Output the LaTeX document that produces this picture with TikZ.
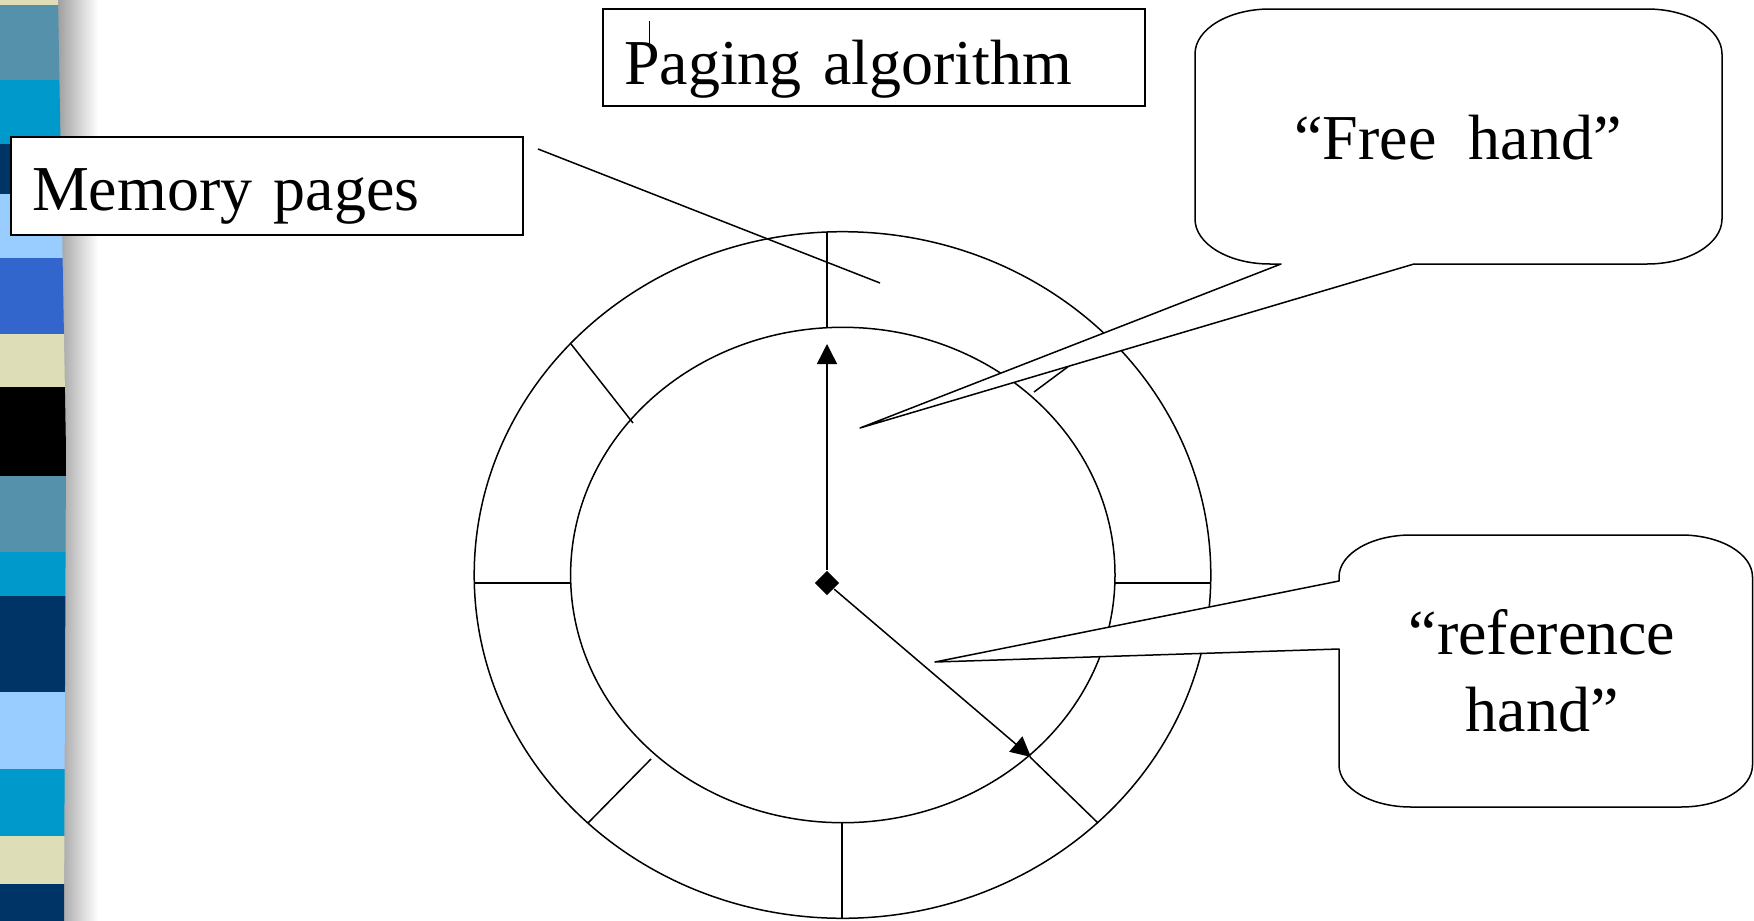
\documentclass[tikz,border=0pt]{standalone}
\usepackage{fontspec}
\setmainfont{Liberation Serif}
\usetikzlibrary{arrows.meta,shapes.geometric}

\definecolor{stripebeige}{RGB}{221,222,183}
\definecolor{stripesteel}{RGB}{85,145,170}
\definecolor{stripecyan}{RGB}{0,153,204}
\definecolor{stripenavy}{RGB}{0,51,102}
\definecolor{stripesky}{RGB}{153,204,255}
\definecolor{striperoyal}{RGB}{51,102,204}

\begin{document}
\begin{tikzpicture}[x=1pt, y=-1pt, line width=1.5pt,
    tagbox/.style={draw, line width=2pt, fill=white, inner xsep=21pt, inner ysep=0pt,
      align=left, anchor=north west, font=\fontsize{64}{77}\selectfont},
    bubble/.style={draw, fill=white, line join=round},
    bubbletext/.style={font=\fontsize{64}{77}\selectfont, align=center},
    hand/.style={-{Triangle[length=20pt, width=20pt]}}]
  \path[use as bounding box, fill=white] (0,0) rectangle (1754,921);

  % side bar
  \shade[left color=gray!75, right color=white] (58,0) -- (98,0) -- (98,921) -- (58,921) -- cycle;
  \begin{scope}
    \clip (0,0) -- (58,0) -- (66,450) -- (64,921) -- (0,921) -- cycle;
    \foreach \ya/\yb/\col in {0/5/stripebeige, 5/80/stripesteel, 80/144/stripecyan,
        144/194/stripenavy, 194/258/stripesky, 258/334/striperoyal, 334/387/stripebeige,
        387/476/black, 476/552/stripesteel, 552/596/stripecyan, 596/692/stripenavy,
        692/769/stripesky, 769/836/stripecyan, 836/884/stripebeige, 884/921/stripenavy}
      \fill[\col] (0,\ya) rectangle (70,\yb);
  \end{scope}

  % labels
  \node[tagbox, text width=470pt, text height=74pt, text depth=24pt] (mem) at (10,135.5) {Memory pages};
  \node[tagbox, text width=500pt, text height=75pt, text depth=22pt] (algo) at (602,8) {Paging algorithm};
  \draw[line width=1pt] (649,21) -- (649,45);

  % the clock of pages
  \draw (842.5,575) ellipse [x radius=368.3pt, y radius=343.3pt];
  \draw (842.8,575) ellipse [x radius=272.2pt, y radius=247.7pt];
  \draw (827,232) -- (827,327);
  \draw (571,344) -- (633,423);
  \draw (474,583) -- (571,583);
  \draw (588,823) -- (651,759);
  \draw (842,823) -- (842,918);
  \draw (1030,757) -- (1098,823);
  \draw (1115,583) -- (1210,583);
  \draw (1034,392) -- (1108,337);

  \coordinate (memfrom) at (538,149);
  \coordinate (memto) at (880,283);
  \draw (memfrom) -- (memto);

  % hands
  \node[diamond, fill, inner sep=0pt, minimum size=25pt] (hub) at (827,583) {};
  \coordinate (freeend) at (827,344);
  \coordinate (refend) at (1031,757);
  \draw[hand] (hub) -- (freeend);
  \draw[hand] (hub) -- (refend);

  % callouts
  \coordinate (freetip) at (860,428);
  \draw[bubble] (1281,264) -- (freetip) -- (1414,264) -- (1647,264)
    .. controls (1688.4,264) and (1722,243.9) .. (1722,219) -- (1722,54)
    .. controls (1722,29.1) and (1688.4,9) .. (1647,9) -- (1270,9)
    .. controls (1228.6,9) and (1195,29.1) .. (1195,54) -- (1195,219)
    .. controls (1195,243.9) and (1228.6,264) .. (1270,264) -- cycle;
  \node[bubbletext] (freetxt) at (1458,138) {“Free~~hand”};

  \coordinate (reftip) at (935,662);
  \draw[bubble] (1339,581) -- (reftip) -- (1339,649) -- (1339,765)
    .. controls (1339,788.2) and (1371.2,807) .. (1411,807) -- (1681,807)
    .. controls (1720.8,807) and (1752.5,788.2) .. (1752.5,765) -- (1752.5,577)
    .. controls (1752.5,553.8) and (1720.8,535) .. (1681,535) -- (1411,535)
    .. controls (1371.2,535) and (1339,553.8) .. (1339,577) -- cycle;
  \node[bubbletext] (reftxt) at (1542,671) {“reference\\hand”};
\end{tikzpicture}
\end{document}
